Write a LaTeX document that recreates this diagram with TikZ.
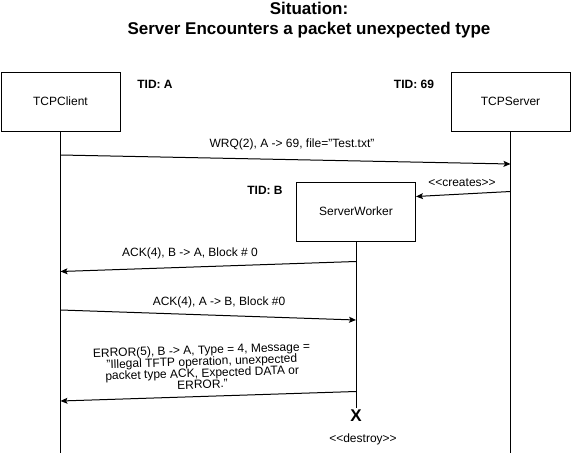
\documentclass[tikz,border=0pt]{standalone}
\usepackage{fontspec}
\setmainfont{Liberation Sans}
\usetikzlibrary{arrows.meta}
\begin{document}
\begin{tikzpicture}[x=1pt,y=-1pt,line width=1pt,
  obj/.style={draw,minimum width=119pt,minimum height=59pt,inner sep=0pt,font=\fontsize{12}{14}\selectfont},
  msg/.style={-{Stealth[length=7pt,width=6pt,inset=1.5pt]}},
  lbl/.style={font=\fontsize{12}{11.5}\selectfont,align=center,inner sep=0pt},
  tid/.style={font=\bfseries\fontsize{12}{14}\selectfont,inner sep=0pt},
  ttl/.style={font=\bfseries\fontsize{17}{19.5}\selectfont,align=center,inner sep=0pt}]
\useasboundingbox (0,0) rectangle (571,453);
\node[ttl] (title) at (309,20) {Situation:\\Server Encounters a packet unexpected type};
\node[obj] (client) at (60.5,101.5) {TCPClient};
\node[obj] (server) at (510.5,101.5) {TCPServer};
\node[obj] (worker) at (356,211.5) {ServerWorker};
\node[tid] (tidA) at (155,84) {TID: A};
\node[tid] (tid69) at (414,84) {TID: 69};
\node[tid] (tidB) at (265,190) {TID: B};
% lifeline ends
\coordinate (cEnd) at (60.5,453);
\coordinate (sEnd) at (510.5,453);
\coordinate (wEnd) at (356,408);
\draw (client.south) -- (cEnd);
\draw (server.south) -- (sEnd);
\draw (worker.south) -- (wEnd);
% message anchors
\coordinate (m1a) at (60.5,155);
\coordinate (m1b) at (510.5,164);
\coordinate (m2a) at (510.5,191.5);
\coordinate (m2b) at (worker.east |- 0,196.5);
\coordinate (m3a) at (356,261.5);
\coordinate (m3b) at (60.5,271.5);
\coordinate (m4a) at (60.5,310);
\coordinate (m4b) at (356,320);
\coordinate (m5a) at (356,391.5);
\coordinate (m5b) at (60.5,401);
\draw[msg] (m1a) -- (m1b);
\draw[msg] (m2a) -- (m2b);
\draw[msg] (m3a) -- (m3b);
\draw[msg] (m4a) -- (m4b);
\draw[msg] (m5a) -- (m5b);
\node[lbl] (l1) at (292,144) {WRQ(2), A -> 69, file="Test.txt"};
\node[lbl] (l2) at (462,183) {<{}<creates>{}>};
\node[lbl] (l3) at (190,253) {ACK(4), B -> A, Block \# 0};
\node[lbl] (l4) at (219,302) {ACK(4), A -> B, Block \#0};
\node[lbl,rotate=1.8] (l5) at (202,367) {ERROR(5), B -> A, Type = 4, Message =\\"Illegal TFTP operation, unexpected\\packet type ACK, Expected DATA or\\ERROR."};
\node[font=\bfseries\fontsize{17}{17}\selectfont,inner sep=0pt] (x) at (356,416) {X};
\node[lbl] (destroy) at (363,439) {<{}<destroy>{}>};
\end{tikzpicture}
\end{document}
